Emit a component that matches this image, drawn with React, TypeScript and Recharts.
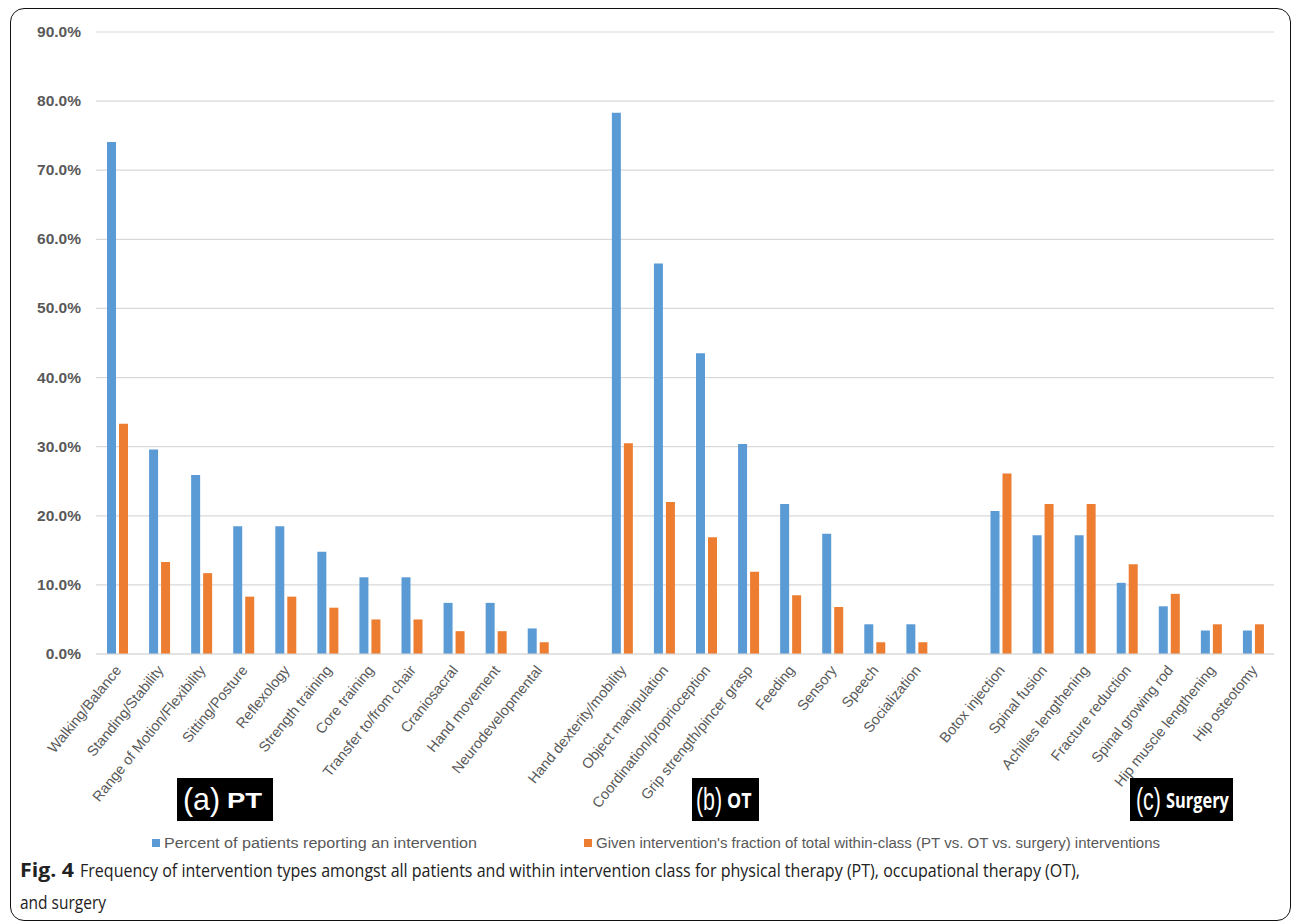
import React from 'react';
import { BarChart, Bar, XAxis, YAxis, CartesianGrid } from 'recharts';

const categories: string[] = [
  'Walking/Balance', 'Standing/Stability', 'Range of Motion/Flexibility', 'Sitting/Posture',
  'Reflexology', 'Strength training', 'Core training', 'Transfer to/from chair',
  'Craniosacral', 'Hand movement', 'Neurodevelopmental',
  '',
  'Hand dexterity/mobility', 'Object manipulation', 'Coordination/proprioception',
  'Grip strength/pincer grasp', 'Feeding', 'Sensory', 'Speech', 'Socialization',
  '',
  'Botox injection', 'Spinal fusion', 'Achilles lengthening', 'Fracture reduction',
  'Spinal growing rod', 'Hip muscle lengthening', 'Hip osteotomy',
];

const patientsPct: (number | null)[] = [
  74.1, 29.6, 25.9, 18.5, 18.5, 14.8, 11.1, 11.1, 7.4, 7.4, 3.7,
  null,
  78.3, 56.5, 43.5, 30.4, 21.7, 17.4, 4.3, 4.3,
  null,
  20.7, 17.2, 17.2, 10.3, 6.9, 3.4, 3.4,
];

const withinClassPct: (number | null)[] = [
  33.3, 13.3, 11.7, 8.3, 8.3, 6.7, 5.0, 5.0, 3.3, 3.3, 1.7,
  null,
  30.5, 22.0, 16.9, 11.9, 8.5, 6.8, 1.7, 1.7,
  null,
  26.1, 21.7, 21.7, 13.0, 8.7, 4.3, 4.3,
];

const yTicks: number[] = [0, 10, 20, 30, 40, 50, 60, 70, 80, 90];

const seriesNames = [
  'Percent of patients reporting an intervention',
  "Given intervention's fraction of total within-class (PT vs. OT vs. surgery) interventions",
];
const seriesColors = ['#5B9BD5', '#ED7D31'];

const groupParens = ['(a)', '(b)', '(c)'];
const groupNames = ['PT', 'OT', 'Surgery'];

const captionBold = 'Fig. 4';
const captionLine1 = 'Frequency of intervention types amongst all patients and within intervention class for physical therapy (PT), occupational therapy (OT),';
const captionLine2 = 'and surgery';

const data = categories.map((c, i) => ({
  name: c,
  patients: patientsPct[i],
  within: withinClassPct[i],
}));

const AXIS_FONT = '"Liberation Sans", Arial, sans-serif';
const CAPTION_FONT = '"Open Sans", "Noto Sans", sans-serif';

const XTick = (props: any) => {
  const { x, y, payload } = props;
  if (!payload.value) return null;
  return (
    <g transform={`translate(${x + 2},${y + 6})`}>
      <text
        x={0}
        y={0}
        dy={4}
        textAnchor="end"
        transform="rotate(-51)"
        fill="#595959"
        fontSize={14.5}
        fontFamily={AXIS_FONT}
      >
        {payload.value}
      </text>
    </g>
  );
};

const YTick = (props: any) => {
  const { x, y, payload } = props;
  return (
    <text
      x={x}
      y={y}
      dy={5}
      textAnchor="end"
      fill="#595959"
      fontSize={15.5}
      fontWeight="bold"
      fontFamily={AXIS_FONT}
    >
      {`${Number(payload.value).toFixed(1)}%`}
    </text>
  );
};

// box geometry: [boxLeft, boxWidth, parenX, parenScaleX, nameX, nameScaleX]
const boxGeom = [
  [177, 96, 183, 0.98, 227, 1.25],
  [692, 67, 696, 0.69, 727, 0.85],
  [1130, 103, 1136, 0.69, 1166, 0.78],
];

export default function App() {
  return (
    <div
      style={{
        position: 'absolute',
        left: 0,
        top: 0,
        width: 1292,
        height: 923,
        background: '#fff',
        overflow: 'hidden',
      }}
    >
      <div
        style={{
          position: 'absolute',
          left: 10,
          top: 8,
          width: 1281,
          height: 913,
          border: '1.6px solid #111',
          borderRadius: 14,
          boxSizing: 'border-box',
        }}
      />
      <div style={{ position: 'absolute', left: 0, top: 0 }}>
        <BarChart
          width={1292}
          height={923}
          data={data}
          margin={{ top: 32, right: 18, left: 0, bottom: 129 }}
          barGap={3}
          barSize={9}
        >
          <CartesianGrid vertical={false} stroke="#D9D9D9" strokeWidth={1.2} />
          <XAxis
            dataKey="name"
            interval={0}
            height={140}
            tick={<XTick />}
            tickLine={false}
            axisLine={{ stroke: '#D9D9D9', strokeWidth: 1.2 }}
          />
          <YAxis
            width={96}
            domain={[0, 90]}
            ticks={yTicks}
            tick={<YTick />}
            tickLine={false}
            axisLine={false}
            tickSize={0}
            tickMargin={15}
          />
          <Bar dataKey="patients" fill={seriesColors[0]} isAnimationActive={false} />
          <Bar dataKey="within" fill={seriesColors[1]} isAnimationActive={false} />
        </BarChart>
      </div>

      <svg style={{ position: 'absolute', left: 0, top: 770 }} width={1292} height={60}>
        {boxGeom.map((b, i) => (
          <g key={groupNames[i]}>
            <rect x={b[0]} y={8} width={b[1]} height={43} fill="#000" />
            <text
              x={0}
              y={0}
              transform={`translate(${b[2]},40) scale(${b[3]},1)`}
              fill="#fff"
              fontSize={31}
              fontFamily={AXIS_FONT}
            >
              {groupParens[i]}
            </text>
            <text
              x={0}
              y={0}
              transform={`translate(${b[4]},38) scale(${b[5]},1)`}
              fill="#fff"
              fontSize={i === 0 ? 22 : 21}
              fontWeight="bold"
              fontFamily={i === 0 ? AXIS_FONT : CAPTION_FONT}
            >
              {groupNames[i]}
            </text>
          </g>
        ))}
      </svg>

      <svg style={{ position: 'absolute', left: 0, top: 830 }} width={1292} height={24}>
        <rect x={152} y={9} width={8} height={8} fill={seriesColors[0]} />
        <text
          x={164}
          y={18}
          fontSize={15.5}
          fill="#595959"
          fontFamily={AXIS_FONT}
          textLength={313}
          lengthAdjust="spacingAndGlyphs"
        >
          {seriesNames[0]}
        </text>
        <rect x={584} y={9} width={8} height={8} fill={seriesColors[1]} />
        <text
          x={596}
          y={18}
          fontSize={15.5}
          fill="#595959"
          fontFamily={AXIS_FONT}
          textLength={564}
          lengthAdjust="spacingAndGlyphs"
        >
          {seriesNames[1]}
        </text>
      </svg>

      <svg style={{ position: 'absolute', left: 0, top: 855 }} width={1292} height={64}>
        <text
          x={20}
          y={22}
          fontSize={19}
          fontWeight="bold"
          fill="#222"
          fontFamily={CAPTION_FONT}
          textLength={54}
          lengthAdjust="spacingAndGlyphs"
        >
          {captionBold}
        </text>
        <text
          x={80}
          y={22}
          fontSize={19}
          fill="#222"
          fontFamily={CAPTION_FONT}
          textLength={1000}
          lengthAdjust="spacingAndGlyphs"
        >
          {captionLine1}
        </text>
        <text
          x={20}
          y={54}
          fontSize={19}
          fill="#222"
          fontFamily={CAPTION_FONT}
          textLength={86}
          lengthAdjust="spacingAndGlyphs"
        >
          {captionLine2}
        </text>
      </svg>
    </div>
  );
}
